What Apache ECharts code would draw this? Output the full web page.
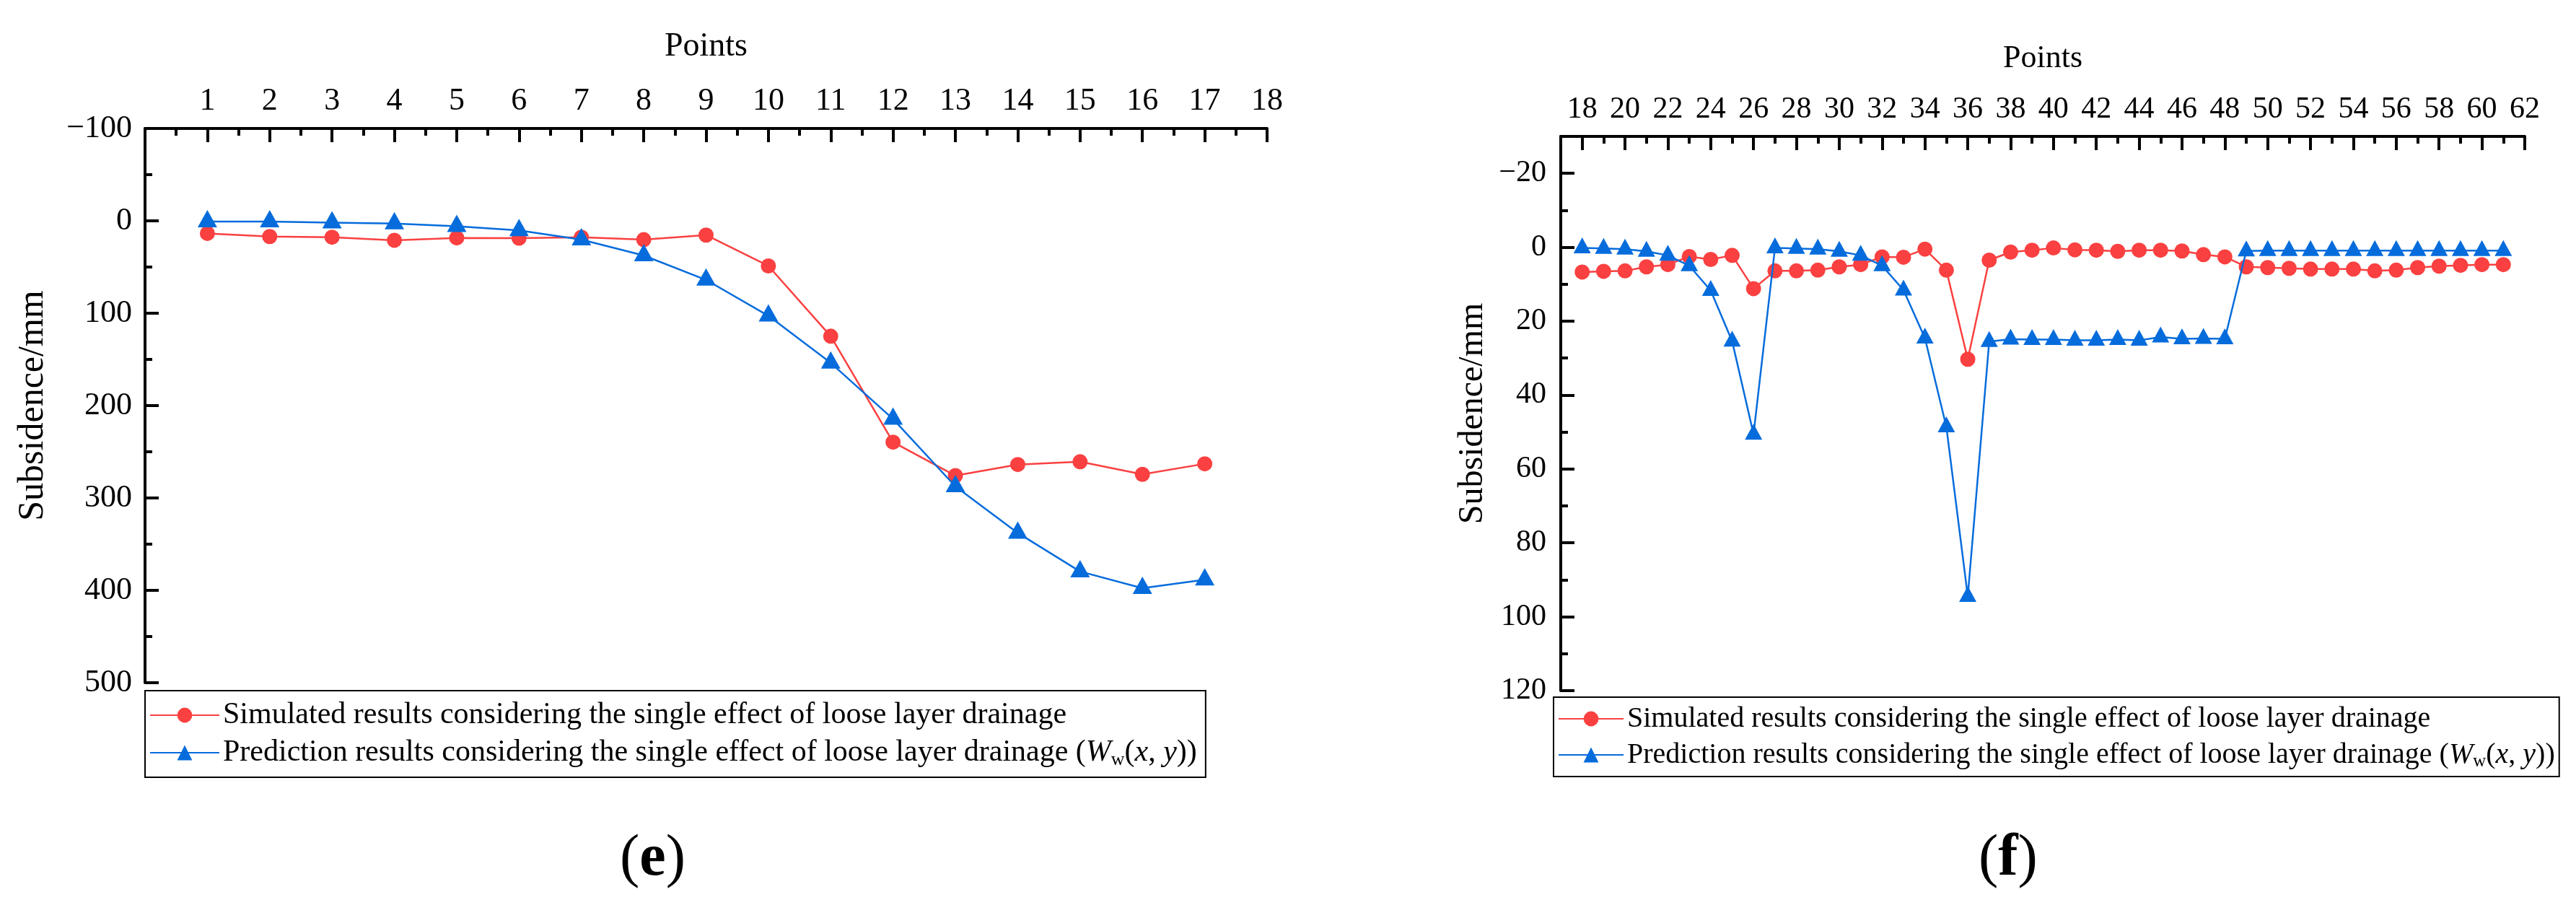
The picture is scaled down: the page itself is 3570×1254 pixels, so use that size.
<!DOCTYPE html>
<html>
<head>
<meta charset="utf-8">
<script src="https://cdn.jsdelivr.net/npm/echarts@6/dist/echarts.min.js"></script>
<style>
  html, body { margin: 0; padding: 0; background: #fff; }
  #chart { width: 3570px; height: 1254px; }
</style>
</head>
<body>
<div id="chart"></div>
<script>
// panel (e): points 1..17
const pointsE = [1, 2, 3, 4, 5, 6, 7, 8, 9, 10, 11, 12, 13, 14, 15, 16, 17]
const simulatedE = [13.6, 17, 17.7, 21, 18.5, 18.8, 17.7, 20.4, 15.4, 48.8, 124.9, 239.6, 275.8, 263.8, 260.8, 274.4, 263]
const predictedE = [0.8, 0.8, 1.9, 2.9, 5.8, 10.4, 20.3, 37.5, 63.9, 102.8, 153.8, 214.5, 287.5, 337.8, 379.6, 397.7, 388.5]

// panel (f): points 18..61
const pointsF = [18, 19, 20, 21, 22, 23, 24, 25, 26, 27, 28, 29, 30, 31, 32, 33, 34, 35, 36, 37, 38, 39,
  40, 41, 42, 43, 44, 45, 46, 47, 48, 49, 50, 51, 52, 53, 54, 55, 56, 57, 58, 59, 60, 61]
const simulatedF = [6.7, 6.5, 6.4, 5.3, 4.7, 2.5, 3.3, 2.2, 11.2, 6.4, 6.4, 6.2, 5.3, 4.7, 2.6, 2.7, 0.5, 6.2, 30.3, 3.5, 1.3, 0.8,
  0.2, 0.7, 0.8, 1.1, 0.8, 0.8, 1.0, 2.0, 2.6, 5.3, 5.5, 5.7, 5.9, 5.9, 5.9, 6.4, 6.2, 5.5, 5.1, 4.9, 4.7, 4.7]
const predictedF = [0.2, 0.3, 0.5, 1.1, 2.2, 5.0, 11.7, 25.4, 50.6, 0.2, 0.3, 0.5, 1.1, 2.2, 5.0, 11.6, 24.6, 48.6, 94.5, 25.5, 24.9, 25.0,
  25.0, 25.2, 25.2, 25.0, 25.2, 24.3, 24.8, 24.7, 24.8, 1.0, 0.9, 0.9, 0.9, 0.9, 0.9, 0.9, 0.9, 0.9, 0.9, 0.9, 0.9, 0.9]

// tick labels
const yLabelsF = [-20, 0, 20, 40, 60, 80, 100, 120]
const yMinorF = [-10, 10, 30, 50, 70, 90, 110]
const xLabelsF = [18, 20, 22, 24, 26, 28, 30, 32, 34, 36, 38, 40, 42, 44, 46, 48, 50, 52, 54, 56, 58, 60, 62]
const xMinorF = [19, 21, 23, 25, 27, 29, 31, 33, 35, 37, 39, 41, 43, 45, 47, 49, 51, 53, 55, 57, 59, 61]

const nameSim = 'Simulated results considering the single effect of loose layer drainage'
const namePred = 'Prediction results considering the single effect of loose layer drainage'

const FONT = '"Liberation Serif", "Times New Roman", serif'
const RED = '#FA4040'
const BLUE = '#066CDC'

const pairs = (xs, ys) => xs.map((x, i) => [x, ys[i]])
const minus = v => (v < 0 ? '\u2212' + Math.abs(v) : String(v))

const axisLine = { show: true, onZero: false, lineStyle: { color: '#000', width: 4 } }
const tickLine = { color: '#000', width: 4 }
const labelStyle = size => ({ color: '#000', fontSize: size, fontFamily: FONT })

const chart = echarts.init(document.getElementById('chart'))

function makeLegend (left, top, size, iconWidth, pad) {
  return {
    left: left,
    top: top,
    orient: 'vertical',
    borderColor: '#000',
    borderWidth: 2,
    padding: pad,
    itemWidth: iconWidth,
    itemHeight: 26,
    itemGap: 6,
    data: [nameSim, namePred],
    selectedMode: false,
    formatter: name =>
      name === namePred
        ? '{n|' + namePred + ' (}{i|W}{s|w}{n|(}{i|x}{n|, }{i|y}{n|))}'
        : '{n|' + name + '}',
    textStyle: {
      color: '#000',
      fontSize: size,
      fontFamily: FONT,
      lineHeight: size + 4,
      rich: {
        n: { fontSize: size, fontFamily: FONT, lineHeight: size + 4 },
        i: { fontSize: size, fontFamily: FONT, fontStyle: 'italic', lineHeight: size + 4 },
        s: { fontSize: Math.round(size * 0.62), fontFamily: FONT, lineHeight: 18, verticalAlign: 'bottom' }
      }
    }
  }
}

function panelLabel (cx, letter) {
  return {
    type: 'text',
    left: cx - 44,
    top: 1150,
    style: {
      text: '{p|(}{b|' + letter + '}{p|)}',
      rich: {
        p: { fontSize: 82, fontFamily: FONT, fill: '#000' },
        b: { fontSize: 82, fontFamily: FONT, fontWeight: 'bold', fill: '#000' }
      }
    }
  }
}

const option = {
  animation: false,
  backgroundColor: '#fff',
  grid: [
    { left: 201, top: 178, width: 1555, height: 768 },
    { left: 2163, top: 189, width: 1336, height: 768 }
  ],
  legend: [
    makeLegend(201, 957, 42, 96, [11, 12, 11, 6]),
    makeLegend(2153, 966, 40, 90, [8, 6, 8, 6])
  ],
  xAxis: [
    {
      gridIndex: 0,
      type: 'value',
      position: 'top',
      min: 0,
      max: 18,
      interval: 1,
      name: 'Points',
      nameLocation: 'middle',
      nameGap: 90,
      nameTextStyle: labelStyle(46),
      axisLine: axisLine,
      axisTick: { inside: true, length: 19, lineStyle: tickLine },
      minorTick: { show: true, splitNumber: 2, length: 10, lineStyle: tickLine },
      axisLabel: Object.assign({ margin: 16, formatter: v => (v === 0 ? '' : String(v)) }, labelStyle(44)),
      splitLine: { show: false }
    },
    {
      gridIndex: 1,
      type: 'value',
      position: 'top',
      min: 17,
      max: 62,
      name: 'Points',
      nameLocation: 'middle',
      nameGap: 86,
      nameTextStyle: labelStyle(44),
      axisLine: axisLine,
      axisTick: { inside: true, length: 19, customValues: xLabelsF, lineStyle: tickLine },
      axisLabel: Object.assign({ margin: 16, customValues: xLabelsF }, labelStyle(42)),
      splitLine: { show: false }
    },
    {
      gridIndex: 1,
      type: 'value',
      position: 'top',
      min: 17,
      max: 62,
      axisLine: { show: false, onZero: false },
      axisTick: { inside: true, length: 10, customValues: xMinorF, lineStyle: tickLine },
      axisLabel: { show: false },
      splitLine: { show: false }
    }
  ],
  yAxis: [
    {
      gridIndex: 0,
      type: 'value',
      inverse: true,
      min: -100,
      max: 500,
      interval: 100,
      name: 'Subsidence/mm',
      nameLocation: 'middle',
      nameRotate: 90,
      nameGap: 130,
      nameTextStyle: labelStyle(50),
      axisLine: axisLine,
      axisTick: { inside: true, length: 19, lineStyle: tickLine },
      minorTick: { show: true, splitNumber: 2, length: 10, lineStyle: tickLine },
      axisLabel: Object.assign({ margin: 18, formatter: minus }, labelStyle(44)),
      splitLine: { show: false }
    },
    {
      gridIndex: 1,
      type: 'value',
      position: 'left',
      inverse: true,
      min: -30,
      max: 120,
      name: 'Subsidence/mm',
      nameLocation: 'middle',
      nameRotate: 90,
      nameGap: 98,
      nameTextStyle: labelStyle(48),
      axisLine: axisLine,
      axisTick: { inside: true, length: 19, customValues: yLabelsF, lineStyle: tickLine },
      axisLabel: Object.assign({ margin: 20, customValues: yLabelsF, formatter: minus }, labelStyle(42)),
      splitLine: { show: false }
    },
    {
      gridIndex: 1,
      type: 'value',
      position: 'left',
      inverse: true,
      min: -30,
      max: 120,
      axisLine: { show: false, onZero: false },
      axisTick: { inside: true, length: 10, customValues: yMinorF, lineStyle: tickLine },
      axisLabel: { show: false },
      splitLine: { show: false }
    }
  ],
  graphic: [panelLabel(903, 'e'), panelLabel(2786, 'f')],
  series: [
    {
      name: nameSim,
      type: 'line',
      xAxisIndex: 0,
      yAxisIndex: 0,
      data: pairs(pointsE, simulatedE),
      symbol: 'circle',
      symbolSize: 21,
      itemStyle: { color: RED },
      lineStyle: { color: RED, width: 2.5 },
      z: 3
    },
    {
      name: namePred,
      type: 'line',
      xAxisIndex: 0,
      yAxisIndex: 0,
      data: pairs(pointsE, predictedE),
      symbol: 'triangle',
      symbolSize: [27, 24],
      symbolOffset: [0, -4],
      itemStyle: { color: BLUE },
      lineStyle: { color: BLUE, width: 2.5 },
      z: 4
    },
    {
      name: nameSim,
      type: 'line',
      xAxisIndex: 1,
      yAxisIndex: 1,
      data: pairs(pointsF, simulatedF),
      symbol: 'circle',
      symbolSize: 21,
      itemStyle: { color: RED },
      lineStyle: { color: RED, width: 2.5 },
      z: 3
    },
    {
      name: namePred,
      type: 'line',
      xAxisIndex: 1,
      yAxisIndex: 1,
      data: pairs(pointsF, predictedF),
      symbol: 'triangle',
      symbolSize: [24, 22],
      symbolOffset: [0, -3.5],
      itemStyle: { color: BLUE },
      lineStyle: { color: BLUE, width: 2.5 },
      z: 4
    }
  ]
}

chart.setOption(option)
</script>
</body>
</html>
